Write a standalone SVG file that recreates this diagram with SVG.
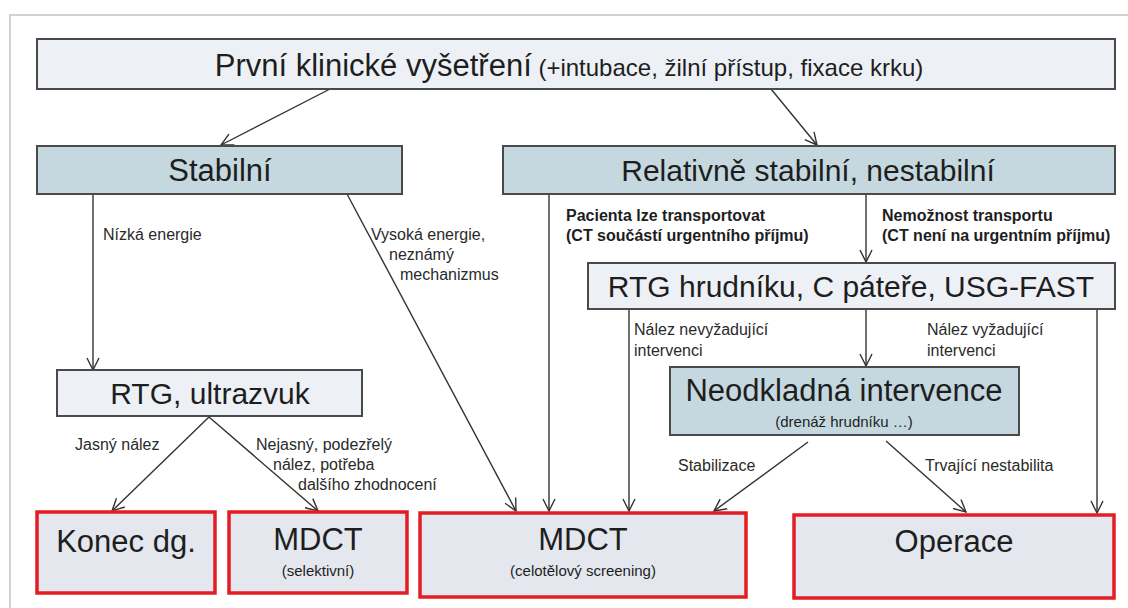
<svg xmlns="http://www.w3.org/2000/svg" width="1128" height="608" viewBox="0 0 1128 608">
<defs>
<style>
text{font-family:"Liberation Sans",Arial,sans-serif;fill:#1e1e1e}
.big{font-size:31px}
.mid{font-size:30px}
.top2{font-size:24px}
.lbl{font-size:16px;fill:#2a2a2a}
.bl{font-size:16px;font-weight:bold}
.sub{font-size:15px}
.light{fill:#edf1f6;stroke:#4a4a4a;stroke-width:2}
.blue{fill:#c5d8df;stroke:#4a4a4a;stroke-width:2}
.red{fill:#e4e7ee;stroke:#e41d25;stroke-width:3.5}
.con{stroke:#333;stroke-width:1.4;fill:none;marker-end:url(#arr)}
</style>
<marker id="arr" viewBox="0 0 14 14" refX="13" refY="7" markerWidth="14" markerHeight="14" markerUnits="userSpaceOnUse" orient="auto">
<path d="M1,1 L13,7 L1,13" fill="none" stroke="#333" stroke-width="1.4"/>
</marker>
</defs>
<rect width="1128" height="608" fill="#fff"/>
<path d="M10,608 V15 H1128" fill="none" stroke="#c4c4c4" stroke-width="1.5"/>

<g id="connectors">
<line class="con" x1="330" y1="89" x2="221" y2="145"/>
<line class="con" x1="771" y1="89" x2="817" y2="145"/>
<line class="con" x1="93" y1="194" x2="93" y2="370"/>
<line class="con" x1="347" y1="194" x2="516" y2="511"/>
<line class="con" x1="549" y1="194" x2="549" y2="511"/>
<line class="con" x1="866" y1="194" x2="866" y2="262"/>
<line class="con" x1="629" y1="309" x2="629" y2="511"/>
<line class="con" x1="866" y1="309" x2="866" y2="366"/>
<line class="con" x1="1097" y1="309" x2="1097" y2="513"/>
<line class="con" x1="808" y1="442" x2="714" y2="511"/>
<line class="con" x1="886" y1="441" x2="966" y2="512"/>
<line class="con" x1="209" y1="417" x2="112" y2="511"/>
<line class="con" x1="209" y1="417" x2="318" y2="511"/>
<text class="lbl" x="103" y="240">Nízká energie</text>
<text class="lbl" x="371" y="240">Vysoká energie,</text>
<text class="lbl" x="389" y="260">neznámý</text>
<text class="lbl" x="400" y="280">mechanizmus</text>
<text class="bl" x="566" y="221">Pacienta lze transportovat</text>
<text class="bl" x="566" y="241">(CT součástí urgentního příjmu)</text>
<text class="bl" x="882" y="221">Nemožnost transportu</text>
<text class="bl" x="882" y="241">(CT není na urgentním příjmu)</text>
<text class="lbl" x="634" y="335">Nález nevyžadující</text>
<text class="lbl" x="634" y="356">intervenci</text>
<text class="lbl" x="927" y="335">Nález vyžadující</text>
<text class="lbl" x="927" y="356">intervenci</text>
<text class="lbl" x="678" y="471">Stabilizace</text>
<text class="lbl" x="925" y="471">Trvající nestabilita</text>
<text class="lbl" x="75" y="450">Jasný nález</text>
<text class="lbl" x="256" y="450">Nejasný, podezřelý</text>
<text class="lbl" x="273" y="470">nález, potřeba</text>
<text class="lbl" x="298" y="490">dalšího zhodnocení</text>
</g>

<g id="n-top">
<rect class="light" x="37" y="39" width="1078" height="50"/>
<text x="569" y="76" text-anchor="middle"><tspan class="big">První klinické vyšetření</tspan><tspan class="top2"> (+intubace, žilní přístup, fixace krku)</tspan></text>
</g>
<g id="n-stabilni">
<rect class="blue" x="37" y="146" width="365" height="48"/>
<text class="big" x="220" y="181" text-anchor="middle">Stabilní</text>
</g>
<g id="n-relativne">
<rect class="blue" x="503" y="146" width="612" height="48"/>
<text class="mid" x="808" y="181" text-anchor="middle">Relativně stabilní, nestabilní</text>
</g>
<g id="n-rtg-hrudniku">
<rect class="light" x="588" y="263" width="527" height="46"/>
<text class="mid" x="851" y="297" text-anchor="middle">RTG hrudníku, C páteře, USG-FAST</text>
</g>
<g id="n-neodkladna">
<rect class="blue" x="670" y="367" width="349" height="68"/>
<text class="big" x="844" y="401" text-anchor="middle">Neodkladná intervence</text>
<text class="sub" x="844" y="427" text-anchor="middle">(drenáž hrudníku …)</text>
</g>
<g id="n-rtg-ultrazvuk">
<rect class="light" x="57" y="370" width="305" height="46"/>
<text class="mid" x="210" y="404" text-anchor="middle">RTG, ultrazvuk</text>
</g>
<g id="n-konec">
<rect class="red" x="37" y="512" width="178" height="81"/>
<text class="big" x="126" y="552" text-anchor="middle">Konec dg.</text>
</g>
<g id="n-mdct-sel">
<rect class="red" x="229" y="512" width="178" height="81"/>
<text class="big" x="318" y="550" text-anchor="middle">MDCT</text>
<text class="sub" x="318" y="576" text-anchor="middle">(selektivní)</text>
</g>
<g id="n-mdct-celo">
<rect class="red" x="420" y="513" width="326" height="84"/>
<text class="big" x="583" y="550" text-anchor="middle">MDCT</text>
<text class="sub" x="583" y="576" text-anchor="middle">(celotělový screening)</text>
</g>
<g id="n-operace">
<rect class="red" x="794" y="515" width="320" height="83"/>
<text class="big" x="954" y="552" text-anchor="middle">Operace</text>
</g>
</svg>
